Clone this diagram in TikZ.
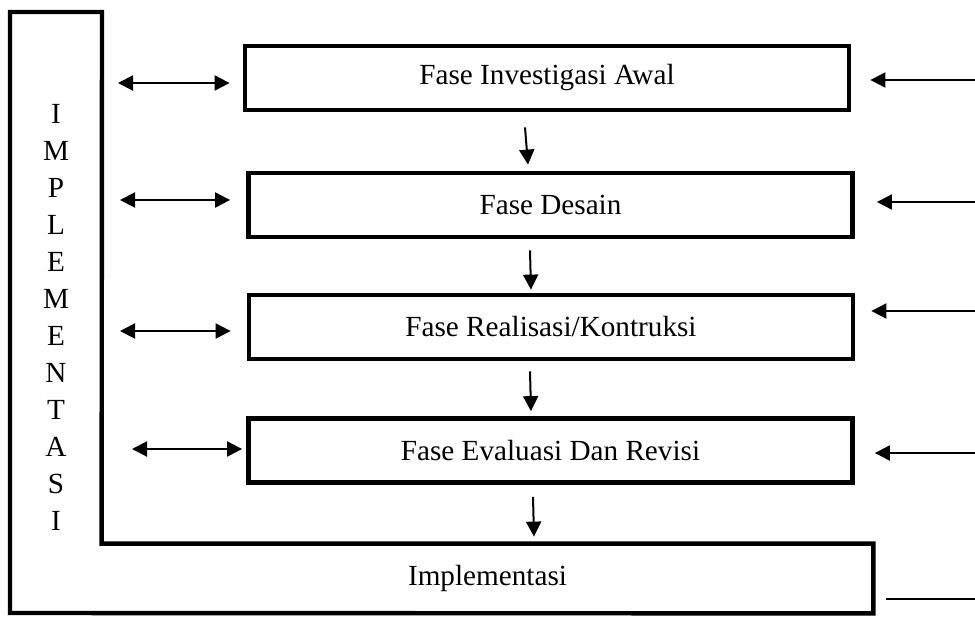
\documentclass[tikz,border=0pt]{standalone}
\usepackage{fontspec}
\setmainfont{Liberation Serif}
\usetikzlibrary{arrows.meta,calc}
\tikzset{
  fase/.style={draw, line width=2.4pt, minimum width=302pt,
               minimum height=32pt, inner sep=0pt},
  ujung/.tip={Triangle[length=7.5pt,width=7.5pt]},
  kiri/.style={ujung-ujung, line width=1pt},
  kanan/.style={-ujung, line width=1pt},
  turun/.style={-ujung, line width=1pt},
  bingkai/.style={line width=2.2pt},
}

\begin{document}
\begin{tikzpicture}[x=0.5pt, y=-0.5pt, font=\fontsize{14.6}{18.5}\selectfont]
  \useasboundingbox (0,0) rectangle (975,617);
  %% fase boxes
  \node[fase] (b1) at (547,78)    {Fase Investigasi Awal};
  \node[fase] (b2) at (550.5,205) {Fase Desain};
  \node[fase] (b3) at (551,327)   {Fase Realisasi/Kontruksi};
  \node[fase] (b4) at (550.5,450.5) {Fase Evaluasi Dan Revisi};
  %% implementasi frame
  \node[minimum width=385.5pt, minimum height=34.5pt, inner sep=0pt]
    (impl) at (487.5,578.5) {Implementasi};
  \node[align=center, inner sep=0pt] (kolom) at (56,317.5)
    {I\\M\\P\\L\\E\\M\\E\\N\\T\\A\\S\\I};
  \draw[bingkai] (10,12) -- (102,12) -- (impl.north west) -- (impl.north east)
    -- (impl.south east) -- (10,613) -- cycle;
  %% left arrows
  \foreach \i/\xa/\ya/\gap in {1/118/83/6.5pt, 2/120/200/8pt,
                               3/120/331/8pt, 4/132/449/2pt}{
    \coordinate (ka\i) at (\xa,\ya);
    \draw[kiri, shorten >=\gap] (ka\i) -- (ka\i -| b\i.west);
  }
  %% right arrows
  \foreach \i/\ya/\gap in {1/80/9.5pt, 2/202/11pt, 3/311/8pt, 4/453/10pt}{
    \coordinate (kn\i) at (975,\ya);
    \draw[kanan, shorten >=\gap] (kn\i) -- (kn\i -| b\i.east);
  }
  %% down arrows
  \draw[turun] ($(b1.south)+(-22,15)$)   -- ($(b2.north)+(-22.5,-6)$);
  \draw[turun] ($(b2.south)+(-20.5,11)$) -- ($(b3.north)+(-20,-3)$);
  \draw[turun] ($(b3.south)+(-21,10)$)   -- ($(b4.north)+(-19.5,-5)$);
  \draw[turun] ($(b4.south)+(-17.5,12)$) -- ($(impl.north)+(46.5,-7)$);
  %% loose line bottom right
  \coordinate (ekor) at (975,599);
  \draw[line width=0.6pt] (ekor) -- ++(-89,0);
\end{tikzpicture}
\end{document}
